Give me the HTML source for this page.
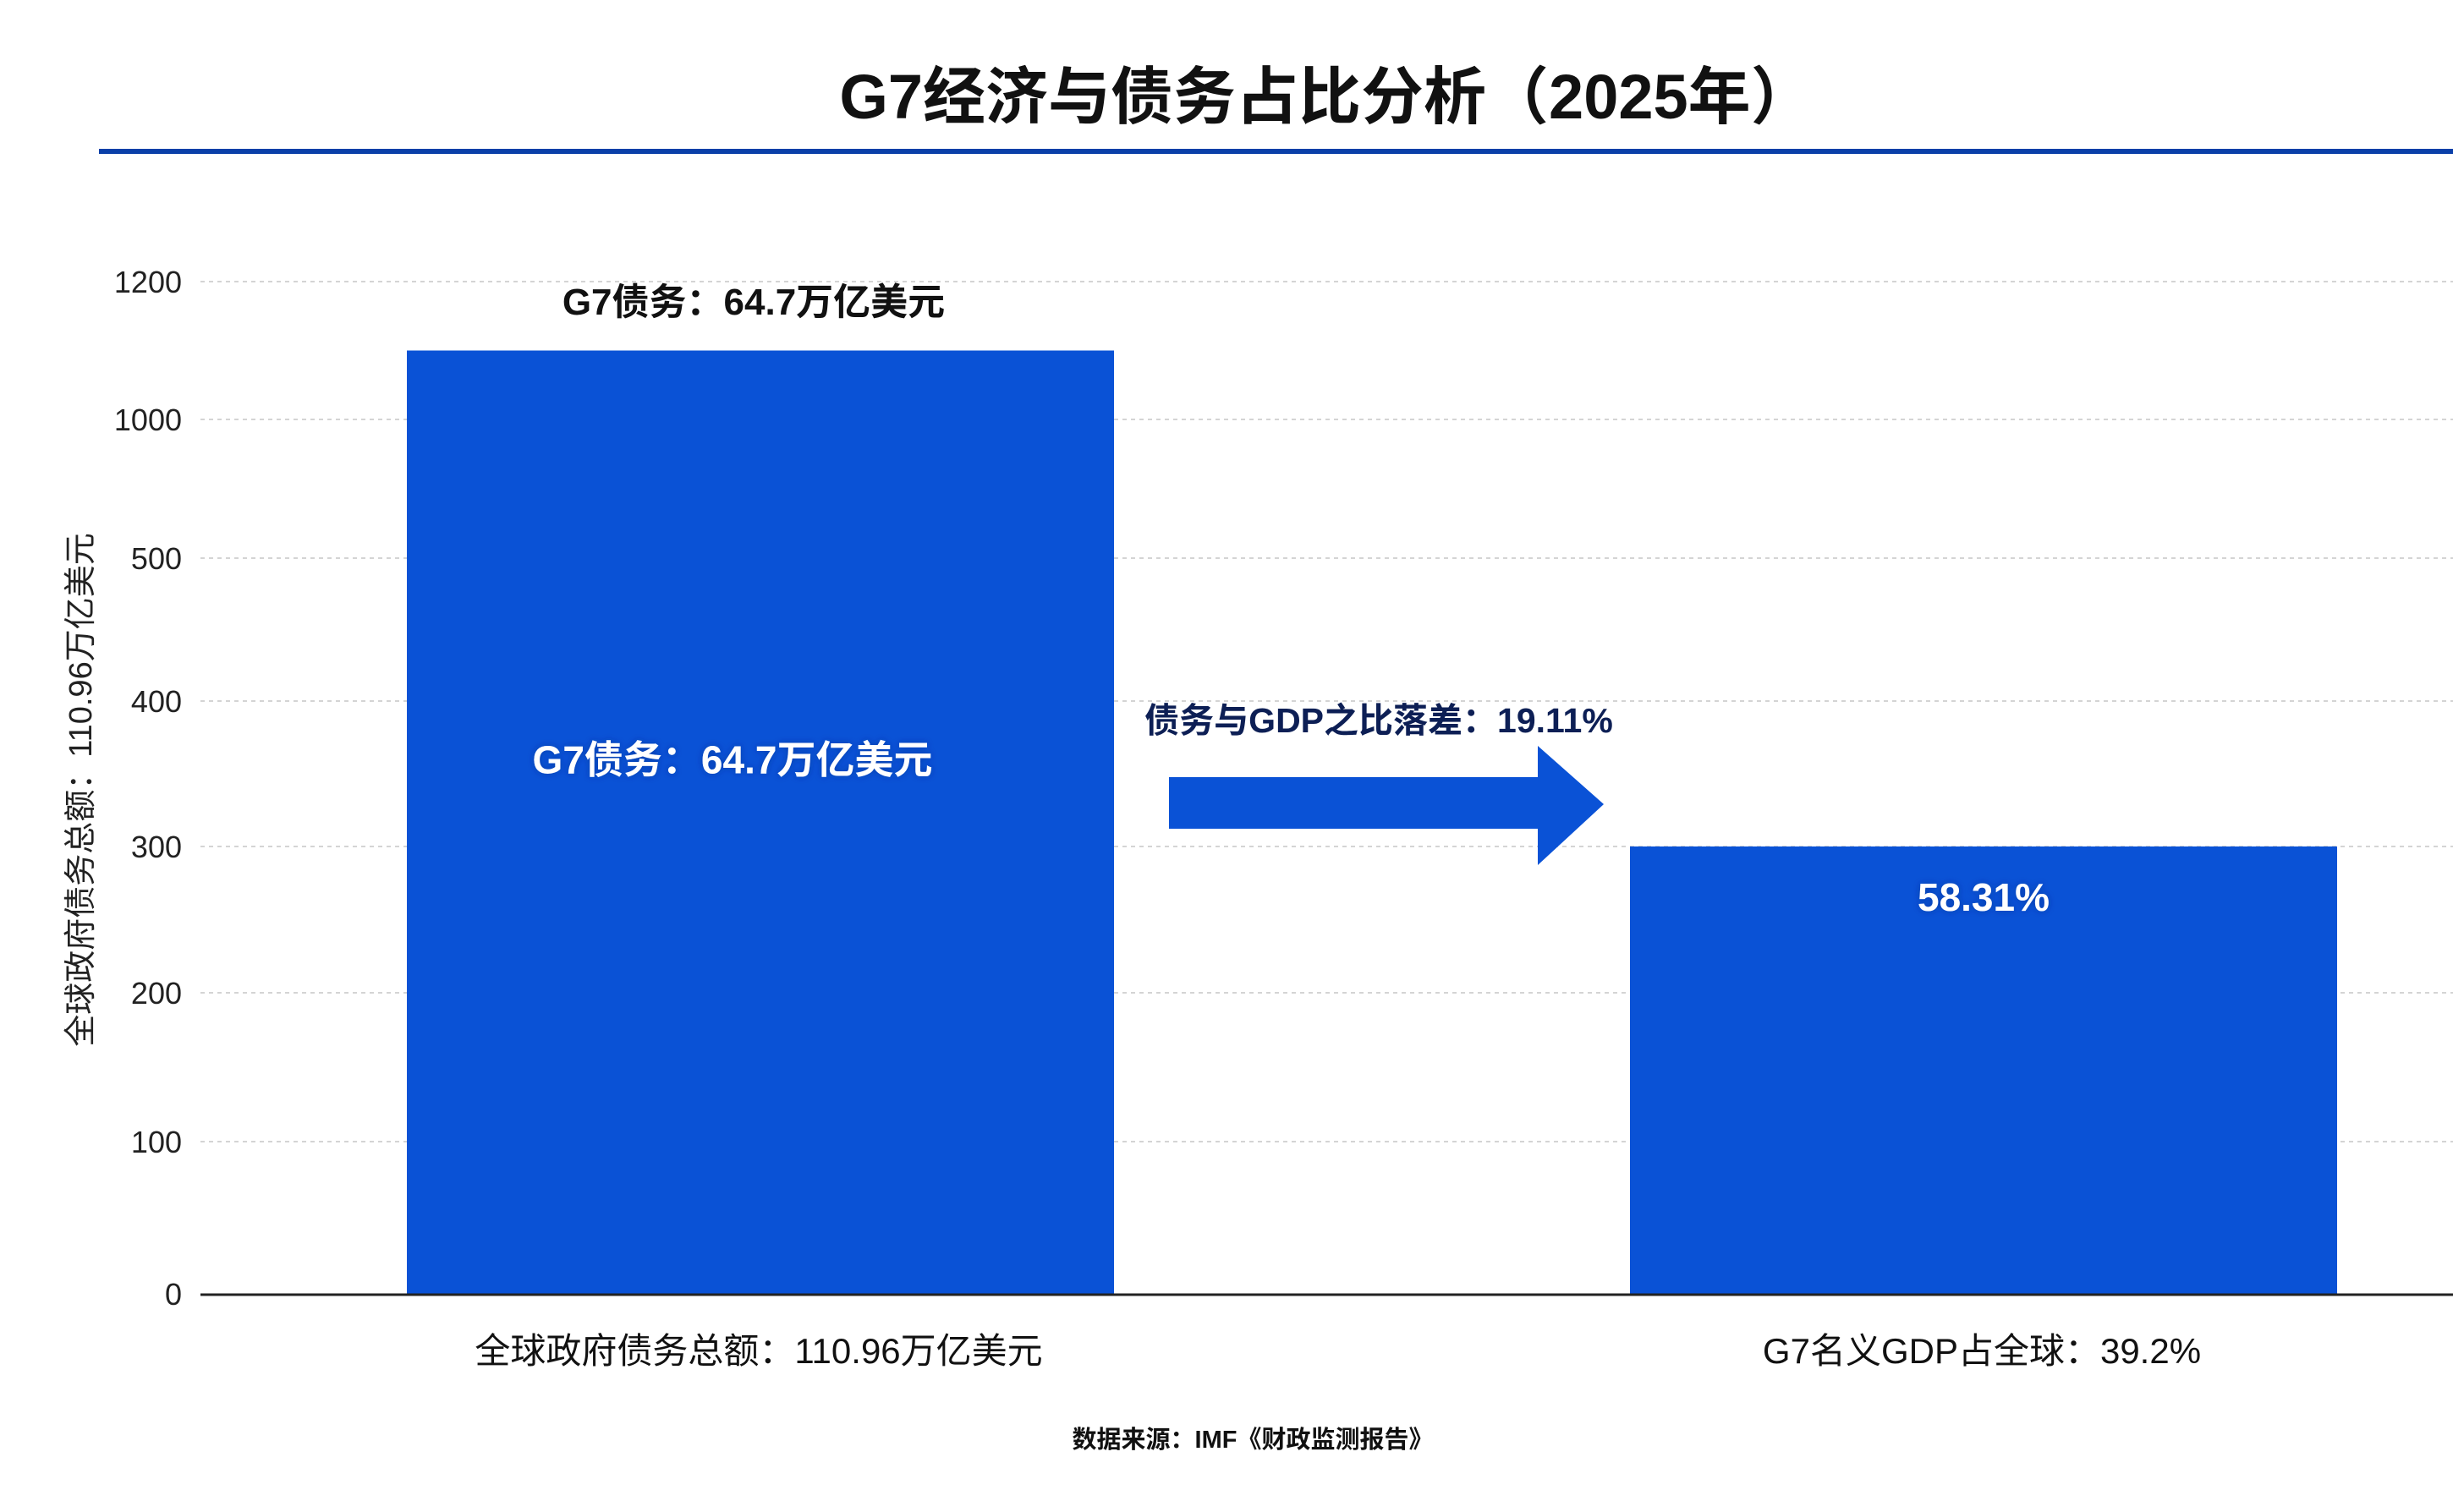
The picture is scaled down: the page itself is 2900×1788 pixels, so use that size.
<!DOCTYPE html>
<html><head><meta charset="utf-8">
<style>
html,body{margin:0;padding:0;background:#fff;}
body{width:2900px;height:1783px;overflow:hidden;font-family:"Liberation Sans","Noto Sans CJK SC",sans-serif;}
svg text{font-family:"Liberation Sans","Noto Sans CJK SC",sans-serif;}
</style></head>
<body>
<svg id="chart" width="2900" height="1783" viewBox="0 0 2900 1783">
<defs>
<filter id="glow" x="-20%" y="-50%" width="140%" height="200%"><feGaussianBlur stdDeviation="4" result="b"/><feFlood flood-color="#002a80" flood-opacity="0.5"/><feComposite in2="b" operator="in"/><feMerge><feMergeNode/><feMergeNode in="SourceGraphic"/></feMerge></filter>
</defs>
<text x="1568" y="140" text-anchor="middle" font-size="74" font-weight="bold" fill="#111">G7经济与债务占比分析（2025年）</text>
<rect x="117" y="176" width="2783" height="6" fill="#0a3fa8"/>
<g id="grid"></g>
<g id="bars"></g>
<line x1="237" y1="1531" x2="2900" y2="1531" stroke="#222" stroke-width="3"/>
<text transform="translate(108,934) rotate(-90)" text-anchor="middle" font-size="38" fill="#222">全球政府债务总额：110.96万亿美元</text>
<text x="891" y="372" text-anchor="middle" font-size="44" font-weight="bold" fill="#111">G7债务：64.7万亿美元</text>
<g>
<polygon points="1382,919 1818,919 1818,882 1896,951 1818,1023 1818,980 1382,980" fill="#0a52d6"/>
</g>
<text x="1630" y="866" text-anchor="middle" font-size="41" font-weight="bold" fill="#0d1f55">债务与GDP之比落差：19.11%</text>
<text x="897" y="1612" text-anchor="middle" font-size="42" fill="#111">全球政府债务总额：110.96万亿美元</text>
<text x="2343" y="1612" text-anchor="middle" font-size="42" fill="#111">G7名义GDP占全球：39.2%</text>
<text x="1481" y="1712" text-anchor="middle" font-size="29" font-weight="bold" fill="#111">数据来源：IMF《财政监测报告》</text>
</svg>
<script>
const tickValues = [0, 100, 200, 300, 400, 500, 1000, 1200];
const tickLabels = ["0", "100", "200", "300", "400", "500", "1000", "1200"];
const categories = ["全球政府债务总额", "G7名义GDP占全球"];
const barValues = [1100, 300];
const barLabels = ["G7债务：64.7万亿美元", "58.31%"];

const tickPos = [1530, 1350, 1174, 1001, 829, 660, 496, 333];
function y(v){
  for(let i=0;i<tickValues.length-1;i++){
    if(v<=tickValues[i+1]){
      const t=(v-tickValues[i])/(tickValues[i+1]-tickValues[i]);
      return tickPos[i]+t*(tickPos[i+1]-tickPos[i]);
    }
  }
  return tickPos[tickPos.length-1];
}
const plotL=237, plotR=2900, band=(plotR-plotL)/categories.length;
function x(i){return plotL+band*i+band*0.18;}
const barW=836;
const NS="http://www.w3.org/2000/svg";
const grid=document.getElementById('grid'), bars=document.getElementById('bars');
tickValues.forEach((v,i)=>{
  if(v>0){
    const l=document.createElementNS(NS,'line');
    l.setAttribute('x1',plotL);l.setAttribute('x2',plotR);
    l.setAttribute('y1',y(v));l.setAttribute('y2',y(v));
    l.setAttribute('stroke','#d4d4d4');l.setAttribute('stroke-width','2');l.setAttribute('stroke-dasharray','5,5');
    
    
    grid.appendChild(l);
  }
  const t=document.createElementNS(NS,'text');
  t.setAttribute('x',215);t.setAttribute('y',y(v)+13);
  t.setAttribute('text-anchor','end');t.setAttribute('font-size','36');t.setAttribute('fill','#222');
  t.textContent=tickLabels[i];
  
  
  grid.appendChild(t);
});
barValues.forEach((v,i)=>{
  const r=document.createElementNS(NS,'rect');
  const bx=i===0?481:1927;
  r.setAttribute('x',bx);r.setAttribute('y',y(v));
  r.setAttribute('width',barW);r.setAttribute('height',y(0)-y(v));
  r.setAttribute('fill','#0a52d6');
  
  
  bars.appendChild(r);
  const t=document.createElementNS(NS,'text');
  t.setAttribute('x',i===0?866:2345);
  t.setAttribute('y',i===0?y(v)+500:y(v)+76);
  t.setAttribute('text-anchor','middle');t.setAttribute('font-size','46');
  t.setAttribute('font-weight','bold');t.setAttribute('fill','#fff');
  t.setAttribute('filter','url(#glow)');
  t.textContent=barLabels[i];
  
  
  bars.appendChild(t);
});
</script>
</body></html>
